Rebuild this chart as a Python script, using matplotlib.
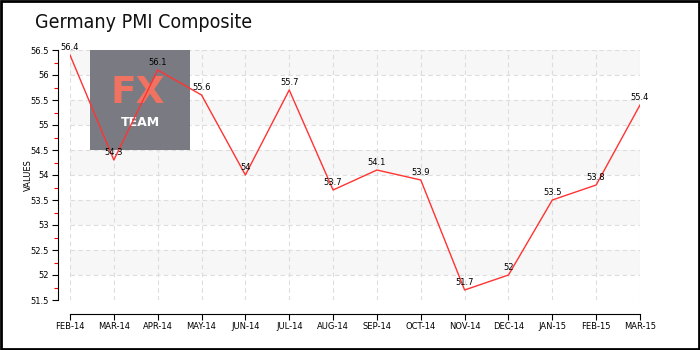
import matplotlib
matplotlib.use("Agg")
import matplotlib.pyplot as plt
from matplotlib.patches import Rectangle
import numpy as np

months = ["FEB-14", "MAR-14", "APR-14", "MAY-14", "JUN-14", "JUL-14", "AUG-14",
          "SEP-14", "OCT-14", "NOV-14", "DEC-14", "JAN-15", "FEB-15", "MAR-15"]
values = [56.4, 54.3, 56.1, 55.6, 54, 55.7, 53.7, 54.1, 53.9, 51.7, 52, 53.5, 53.8, 55.4]
value_labels = ["56.4", "54.3", "56.1", "55.6", "54", "55.7", "53.7", "54.1", "53.9",
                "51.7", "52", "53.5", "53.8", "55.4"]
yticks = [51.5, 52, 52.5, 53, 53.5, 54, 54.5, 55, 55.5, 56, 56.5]
ytick_labels = ["51.5", "52", "52.5", "53", "53.5", "54", "54.5", "55", "55.5", "56", "56.5"]

fig = plt.figure(figsize=(7, 3.5), dpi=100)
fig.patch.set_facecolor("white")
W, H = 700, 350
ax = fig.add_axes([70 / W, 1 - 300 / H, 570 / W, 250 / H])
x = np.arange(len(months))
ax.set_xlim(0, len(months) - 1)
ax.set_ylim(51.5, 56.5)

# alternating bands
for lo in [52, 53, 54, 55, 56]:
    ax.axhspan(lo, lo + 0.5, color="#f7f7f7", zorder=0, lw=0)

ax.grid(True, color="#dddddd", linestyle=(0, (4, 3)), linewidth=0.8, zorder=1)
ax.set_axisbelow(True)

# watermark
ax.add_patch(Rectangle((90 / W, 1 - 150 / H), 100 / W, 100 / H, transform=fig.transFigure,
                       facecolor="#7a7b82", edgecolor="none", zorder=2, clip_on=False))
ax.text(138 / W, 1 - 93 / H, "FX", color="#f07260", fontsize=27, fontweight="bold",
        ha="center", va="center", zorder=3, transform=fig.transFigure)
ax.text(140 / W, 1 - 123 / H, "TEAM", color="white", fontsize=9, fontweight="bold",
        ha="center", va="center", zorder=3, transform=fig.transFigure)

ax.plot(x, values, color="#ff3333", linewidth=1.0, zorder=4)
for xi, v, lab in zip(x, values, value_labels):
    ax.annotate(lab, (xi, v), xytext=(0, 2), textcoords="offset points",
                ha="center", va="bottom", fontsize=6, color="black", zorder=5)

for s in ["top", "right"]:
    ax.spines[s].set_visible(False)
ax.spines["left"].set_position(("outward", 9))
ax.spines["bottom"].set_position(("outward", 10))
ax.set_xticks(x)
ax.set_xticklabels(months, fontsize=6)
ax.set_yticks(yticks)
ax.set_yticklabels(ytick_labels, fontsize=6)
ax.set_yticks(np.arange(51.75, 56.5, 0.5), minor=True)
ax.tick_params(axis="y", which="minor", length=3, color="red", width=0.8, left=True)
ax.tick_params(axis="both", which="major", length=4, width=0.8, pad=2)
ax.set_ylabel("VALUES", fontsize=6)
ax.yaxis.set_label_coords(-37 / 570, 0.5)

fig.text(35 / W, 1 - 22 / H, "Germany PMI Composite", fontsize=14, ha="left", va="center",
         color="#111111", fontstretch="condensed")

fig.add_artist(Rectangle((0.001, 0.002), 0.997, 0.995, transform=fig.transFigure,
                         fill=False, edgecolor="black", linewidth=2))

fig.savefig("out.png", dpi=100)
